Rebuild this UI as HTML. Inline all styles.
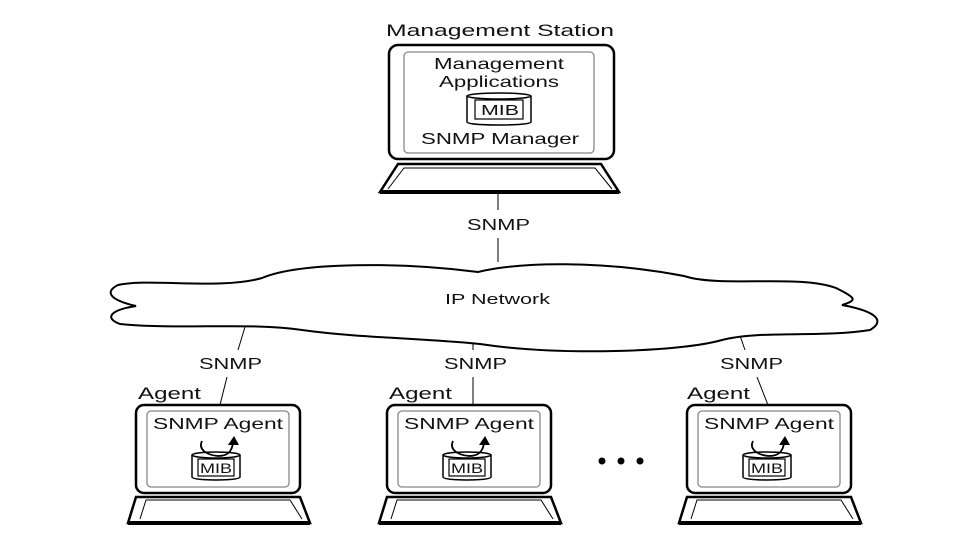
<!DOCTYPE html>
<html><head><meta charset="utf-8"><style>
html,body{margin:0;padding:0;background:#fff;}
svg{display:block;}
text{font-family:"Liberation Sans",sans-serif;fill:#111;}
</style></head><body>
<svg width="960" height="540" viewBox="0 0 960 540" xmlns="http://www.w3.org/2000/svg">
<defs>
<g id="agent">
  <rect x="0" y="0" width="164" height="88" rx="8" fill="#fff" stroke="#000" stroke-width="2.5"/>
  <rect x="11" y="6" width="142" height="76" rx="4" fill="#fff" stroke="#888" stroke-width="1.3"/>
  <text x="17" y="24" font-size="16" textLength="130" lengthAdjust="spacingAndGlyphs">SNMP Agent</text>
  <path d="M56,50 v22 c0,3 24,3 24,3 c0,0 24,0 24,-3 v-22" fill="#fff" stroke="#000" stroke-width="1.5"/>
  <ellipse cx="80" cy="50" rx="24" ry="3" fill="#fff" stroke="#000" stroke-width="1.5"/>
  <rect x="62" y="54" width="36" height="17" fill="#fff" stroke="#000" stroke-width="1.2"/>
  <text x="64" y="68" font-size="14" textLength="32" lengthAdjust="spacingAndGlyphs">MIB</text>
  <path d="M66,36 C62,44 70,50 82,51 C92,51 96,46 97,38" fill="none" stroke="#000" stroke-width="1.8"/>
  <path d="M92,40 L98,31 L103,40 Z" fill="#000"/>
  <path d="M-8,118 L0,92 L164,92 L174,118 Z" fill="#fff" stroke="#000" stroke-width="2.5"/>
  <path d="M4,114 L10,95 L154,95 L166,114" fill="none" stroke="#000" stroke-width="1"/>
  <line x1="-8" y1="118" x2="174" y2="118" stroke="#000" stroke-width="4"/>
</g>
</defs>

<!-- Management station -->
<text x="386" y="36" font-size="17" textLength="228" lengthAdjust="spacingAndGlyphs">Management Station</text>
<rect x="389" y="45" width="225" height="114" rx="9" fill="#fff" stroke="#000" stroke-width="2.5"/>
<rect x="404" y="52" width="190" height="101" rx="4" fill="#fff" stroke="#888" stroke-width="1.3"/>
<text x="434" y="69" font-size="16" textLength="130" lengthAdjust="spacingAndGlyphs">Management</text>
<text x="439" y="87" font-size="16" textLength="120" lengthAdjust="spacingAndGlyphs">Applications</text>
<path d="M467,96 v26 c0,3 32,3 32,3 c0,0 32,0 32,-3 v-26" fill="#fff" stroke="#000" stroke-width="1.5"/>
<ellipse cx="499" cy="96" rx="32" ry="3" fill="#fff" stroke="#000" stroke-width="1.5"/>
<rect x="475" y="100" width="48" height="19" fill="#fff" stroke="#000" stroke-width="1.2"/>
<text x="481" y="115" font-size="15" textLength="38" lengthAdjust="spacingAndGlyphs">MIB</text>
<text x="421" y="144" font-size="16" textLength="158" lengthAdjust="spacingAndGlyphs">SNMP Manager</text>
<path d="M380,192 L398,164 L601,164 L619,192 Z" fill="#fff" stroke="#000" stroke-width="2.5"/>
<path d="M388,189 L404,168 L595,168 L612,189" fill="none" stroke="#000" stroke-width="1"/>
<line x1="380" y1="192" x2="619" y2="192" stroke="#000" stroke-width="4"/>

<!-- connectors -->
<line x1="498" y1="193" x2="498" y2="210" stroke="#000" stroke-width="1"/>
<text x="467" y="230" font-size="16" textLength="63" lengthAdjust="spacingAndGlyphs">SNMP</text>
<line x1="498" y1="238" x2="498" y2="262" stroke="#000" stroke-width="1"/>

<line x1="245" y1="327" x2="238" y2="350" stroke="#000" stroke-width="1"/>
<text x="199" y="369" font-size="16" textLength="63" lengthAdjust="spacingAndGlyphs">SNMP</text>
<line x1="227" y1="377" x2="220" y2="405" stroke="#000" stroke-width="1"/>

<line x1="473" y1="342" x2="473" y2="350" stroke="#000" stroke-width="1"/>
<text x="444" y="369" font-size="16" textLength="63" lengthAdjust="spacingAndGlyphs">SNMP</text>
<line x1="473" y1="377" x2="473" y2="405" stroke="#000" stroke-width="1"/>

<line x1="737" y1="327" x2="745" y2="350" stroke="#000" stroke-width="1"/>
<text x="720" y="369" font-size="16" textLength="63" lengthAdjust="spacingAndGlyphs">SNMP</text>
<line x1="757" y1="377" x2="768" y2="405" stroke="#000" stroke-width="1"/>

<!-- cloud -->
<path d="M118,285 C150,278 220,290 262,278 C300,262 400,262 478,272 C520,262 600,260 684,276 C720,288 800,274 836,288 C856,298 858,300 842,305 C880,312 884,322 870,330 C820,338 760,330 722,340 C680,352 560,356 480,344 C420,338 360,338 302,330 C250,322 180,330 120,324 C104,318 110,310 136,306 C110,300 104,292 118,285 Z" fill="#fff" stroke="#000" stroke-width="2"/>
<text x="445" y="304" font-size="15" textLength="105" lengthAdjust="spacingAndGlyphs">IP Network</text>

<!-- agents -->
<text x="138" y="399" font-size="17" textLength="63" lengthAdjust="spacingAndGlyphs">Agent</text>
<text x="389" y="399" font-size="17" textLength="63" lengthAdjust="spacingAndGlyphs">Agent</text>
<text x="687" y="399" font-size="17" textLength="63" lengthAdjust="spacingAndGlyphs">Agent</text>
<use href="#agent" transform="translate(136,405)"/>
<use href="#agent" transform="translate(387,405)"/>
<use href="#agent" transform="translate(687,405)"/>

<circle cx="602" cy="461" r="3.5" fill="#000"/>
<circle cx="621" cy="461" r="3.5" fill="#000"/>
<circle cx="640" cy="461" r="3.5" fill="#000"/>
</svg>
</body></html>
